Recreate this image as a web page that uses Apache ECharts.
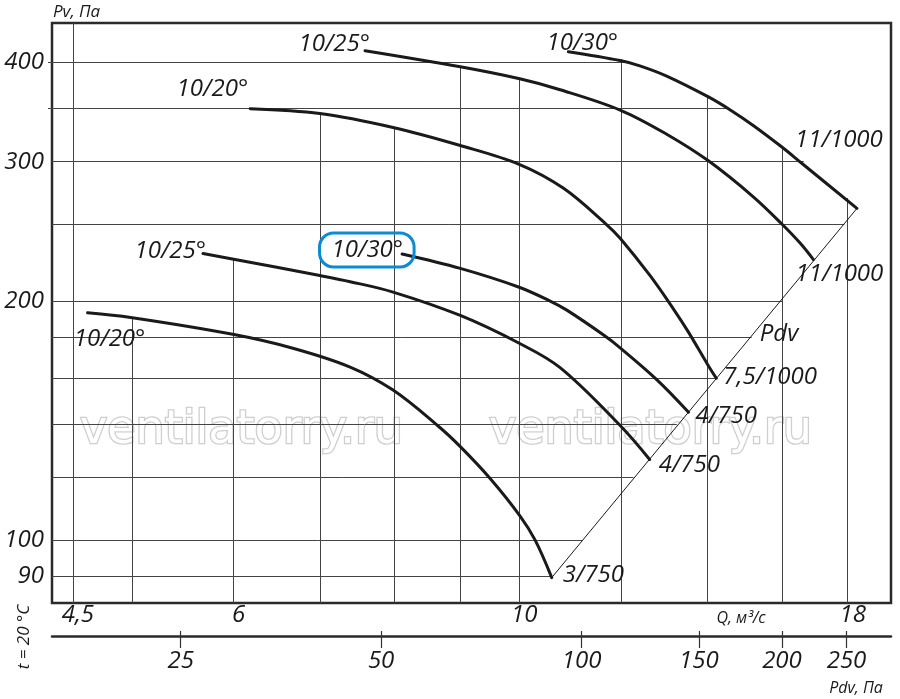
<!DOCTYPE html>
<html>
<head>
<meta charset="utf-8">
<title>Pv - Q</title>
<script src="https://cdn.jsdelivr.net/npm/echarts@6.0.0/dist/echarts.min.js"></script>
<style>
html, body { margin: 0; padding: 0; background: #fff; }
#chart { width: 900px; height: 699px; }
</style>
</head>
<body>
<div id="chart"></div>
<script>
// Q, м3/с (x, log) -> Pv, Па (y, log)
var curveA = [[4.62, 193.5], [4.99, 190.9], [5.99, 181.8], [6.67, 174.6], [7.39, 165.3], [7.98, 154.6], [8.65, 139.3], [9.00, 131.2], [9.49, 119.7], [10.01, 107.4], [10.29, 100.0], [10.60, 89.7]];
var curveB = [[5.68, 229.9], [6.00, 226.1], [7.00, 215.6], [7.39, 211.8], [7.98, 205.5], [9.00, 192.0], [10.01, 177.0], [10.76, 165.0], [11.98, 139.5], [12.63, 126.4]];
var curveC = [[8.11, 229.5], [9.00, 220.1], [10.00, 208.4], [10.57, 200.2], [10.89, 195.0], [11.66, 180.9], [11.98, 174.8], [12.79, 159.4], [13.54, 145.0]];
var curveD = [[6.18, 350.0], [7.00, 345.1], [7.98, 331.4], [9.00, 314.5], [10.00, 297.8], [10.82, 277.9], [11.68, 250.4], [11.98, 240.3], [12.64, 215.5], [13.18, 195.6], [13.53, 183.2], [14.02, 166.2], [14.23, 160.0]];
var curveE = [[7.59, 414.1], [9.00, 395.2], [10.01, 381.7], [10.76, 369.8], [11.98, 348.6], [13.02, 325.0], [14.03, 300.8], [15.21, 270.8], [16.00, 250.4], [16.53, 236.9], [16.93, 225.8]];
var curveF = [[10.92, 412.9], [11.98, 402.5], [12.41, 396.3], [13.02, 384.7], [14.03, 362.1], [14.63, 347.7], [15.21, 333.1], [16.00, 313.1], [16.57, 298.9], [18.30, 262.0]];
var pdvLine = [[10.60, 89.7], [18.30, 262.0]];

var startNames = ['10/20°', '10/25°', '10/30°', '10/20°', '10/25°', '10/30°'];
var endNames = ['3/750', '4/750', '4/750', '7,5/1000', '11/1000', '11/1000'];

var qTicks = [4.5, 6, 10, 18];
var pvTicks = [90, 100, 200, 300, 400];
var pdvTicks = [25, 50, 100, 150, 200, 250];

// сетка: вертикали идут снизу до кривой, горизонтали - до линии Pdv / верхней кривой
var qGrid = [4.5, 5, 6, 7, 8, 9, 10, 12, 14, 16, 18];
var qGridTop = [448.8, 190.9, 226.0, 345.3, 330.5, 394.2, 382.0, 404.0, 364.0, 313.0, 270.0];
var pvGrid = [90, 100, 120, 140, 160, 180, 200, 250, 300, 350, 400];
var pvGridEnd = [10.60, 11.20, 12.27, 13.26, 14.20, 15.16, 16.02, 17.89, 16.64, 14.53, 12.10];

var Q_MIN = 4.335, Q_MAX = 19.45;
var PV_MIN = 83.33, PV_MAX = 448.8;
var PDV_MIN = 16.02, PDV_MAX = 291.6;

var FONT = '"Open Sans", "Noto Sans", sans-serif';
var INK = '#1a1a1a';

function commaNum(v) {
	return String(v).replace('.', ',');
}

function lbl(text, pos, dist, off) {
	return {
		show: true,
		formatter: text,
		position: pos,
		distance: dist,
		offset: off,
		fontFamily: FONT,
		fontStyle: 'italic',
		fontSize: 24,
		color: INK
	};
}

var startLabels = [
	lbl(startNames[0], 'bottom', 14, [22, 0]),
	lbl(startNames[1], 'left', -3, [0, -2]),
	lbl(startNames[2], 'left', -12, [0, -4]),
	lbl(startNames[3], 'left', 2, [0, -19]),
	lbl(startNames[4], 'left', -5, [0, -7]),
	lbl(startNames[5], 'top', -3, [14, 0])
];
// рамка вокруг 10/30°
startLabels[2].borderColor = '#0b8bd6';
startLabels[2].borderWidth = 3;
startLabels[2].borderRadius = 14;
startLabels[2].padding = [6, 11, 4, 12];

var endLabels = [
	lbl(endNames[0], 'right', 11, [0, -2]),
	lbl(endNames[1], 'right', 9, [0, 6]),
	lbl(endNames[2], 'right', 7, [0, 4]),
	lbl(endNames[3], 'right', 7, [0, -1]),
	lbl(endNames[4], 'bottom', 3, [26, 0]),
	lbl(endNames[5], 'top', 56, [-18, 0])
];

function curveSeries(pts, idx) {
	var data = pts.map(function (p, i) {
		var item = { value: p };
		if (i === 0) item.label = startLabels[idx];
		if (i === pts.length - 1) item.label = endLabels[idx];
		return item;
	});
	return {
		type: 'line',
		data: data,
		smooth: 0.35,
		symbol: 'circle',
		symbolSize: 0,
		showSymbol: true,
		showAllSymbol: true,
		silent: true,
		z: 5,
		lineStyle: { color: INK, width: 3, cap: 'round' },
		label: { show: false }
	};
}

var gridSegs = [];
for (var i = 0; i < qGrid.length; i++) {
	gridSegs.push({ coords: [[qGrid[i], PV_MIN], [qGrid[i], qGridTop[i]]] });
}
for (var j = 0; j < pvGrid.length; j++) {
	gridSegs.push({ coords: [[Q_MIN, pvGrid[j]], [pvGridEnd[j], pvGrid[j]]] });
}

var series = [{
	type: 'lines',
	coordinateSystem: 'cartesian2d',
	data: gridSegs,
	silent: true,
	z: 2,
	lineStyle: { color: '#444', width: 1, opacity: 1 }
}, {
	type: 'line',
	data: pdvLine,
	symbol: 'none',
	silent: true,
	z: 4,
	lineStyle: { color: INK, width: 1 }
}];
[curveA, curveB, curveC, curveD, curveE, curveF].forEach(function (c, k) {
	series.push(curveSeries(c, k));
});

function txt(text, x, y, size, rot) {
	return {
		type: 'text',
		x: x,
		y: y,
		rotation: rot || 0,
		silent: true,
		z: 50,
		style: {
			text: text,
			font: 'italic ' + size + 'px ' + FONT,
			fill: INK,
			align: 'center',
			verticalAlign: 'middle',
			textAlign: 'center',
			textVerticalAlign: 'middle'
		}
	};
}

// водяной знак: контурные буквы под сеткой
function mark(x) {
	return {
		type: 'text',
		x: x,
		y: 431,
		silent: true,
		z: 0,
		style: {
			text: 'ventilatorry.ru',
			font: '46px "DejaVu Sans", sans-serif',
			fill: '#fff',
			stroke: '#cfcfcf',
			lineWidth: 2.6,
			strokeFirst: true,
			align: 'left',
			verticalAlign: 'middle',
			textAlign: 'left',
			textVerticalAlign: 'middle'
		}
	};
}

var axisFont = { fontFamily: FONT, fontStyle: 'italic', fontSize: 24, color: INK };

var myChart = echarts.init(document.getElementById('chart'));
var option = {
	animation: false,
	backgroundColor: '#fff',
	textStyle: { fontFamily: FONT, color: INK },
	grid: {
		left: 52, right: 9, top: 23, bottom: 96,
		show: true,
		borderColor: '#2a2a2a',
		borderWidth: 2.5,
		backgroundColor: 'transparent',
		containLabel: false,
		outerBoundsMode: 'none'
	},
	xAxis: [{
		type: 'log',
		min: Q_MIN,
		max: Q_MAX,
		position: 'bottom',
		axisLine: { show: false },
		axisTick: { show: false },
		splitLine: { show: false },
		axisLabel: Object.assign({ customValues: qTicks, formatter: commaNum, margin: 0, padding: [0, 0, 0, 10] }, axisFont)
	}, {
		type: 'log',
		min: PDV_MIN,
		max: PDV_MAX,
		position: 'bottom',
		offset: 45,
		axisLine: { show: false },
		axisTick: { show: true, inside: true, length: 17, customValues: pdvTicks, lineStyle: { color: '#333', width: 1.2 } },
		splitLine: { show: false },
		axisLabel: Object.assign({ customValues: pdvTicks, margin: 1 }, axisFont)
	}, {
		type: 'value',
		min: 0,
		max: 1,
		position: 'bottom',
		offset: 33,
		axisLine: { show: true, lineStyle: { color: '#2a2a2a', width: 2.5 } },
		axisTick: { show: false },
		axisLabel: { show: false },
		splitLine: { show: false }
	}],
	yAxis: {
		type: 'log',
		min: PV_MIN,
		max: PV_MAX,
		axisLine: { show: false },
		splitLine: { show: false },
		axisTick: { show: true, customValues: [350, 400], length: 4, lineStyle: { color: '#444' } },
		axisLabel: Object.assign({ customValues: pvTicks, margin: 8 }, axisFont)
	},
	graphic: [
		{
			type: 'text', x: 53, y: 12, silent: true, z: 50,
			style: { text: 'Pv, Па', font: 'italic 17px ' + FONT, fill: INK, align: 'left', verticalAlign: 'middle', textAlign: 'left', textVerticalAlign: 'middle' }
		},
		txt('Q, м³/с', 741, 618, 16),
		txt('Pdv, Па', 856, 688, 16),
		txt('t = 20 °C', 24, 637, 17, Math.PI / 2),
		txt('Pdv', 779, 334, 24),
		mark(80),
		mark(489)
	],
	series: series
};

if (option && typeof option === "object") {
	myChart.setOption(option, true);
}
</script>
</body>
</html>
